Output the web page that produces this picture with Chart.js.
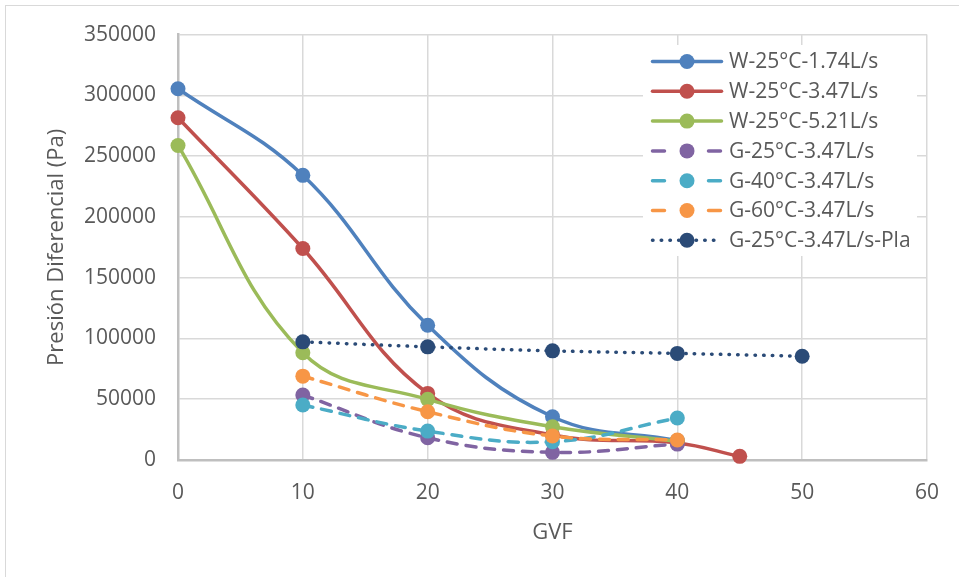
<!DOCTYPE html>
<html>
<head>
<meta charset="utf-8">
<script src="https://cdn.jsdelivr.net/npm/chart.js@4"></script>
<style>
  html, body { margin: 0; padding: 0; background: #fff; }
  #wrap { width: 959px; height: 577px; position: relative; }
</style>
</head>
<body>
<div id="wrap"><canvas id="c" width="959" height="577"></canvas></div>
<script>
// GVF (%) sampled for each series
const gvfW174 = [0, 10, 20, 30, 40];
const gvfW347 = [0, 10, 20, 30, 40, 45];
const gvfW521 = [0, 10, 20, 30, 40];
const gvfGly  = [10, 20, 30, 40];
const gvfPla  = [10, 20, 30, 40, 50];

// Differential pressure (Pa)
const w25_174 = [305400, 234200, 110900, 35600, 16000];
const w25_347 = [281600, 174000, 54800, 20500, 14000, 3000];
const w25_521 = [258800, 88200, 49900, 27400, 15500];
const g25_347 = [53400, 18300, 6300, 13100];
const g40_347 = [45200, 23800, 15000, 34500];
const g60_347 = [69000, 39700, 19700, 16400];
const g25_347pla = [97200, 93100, 89800, 87700, 85400];

const seriesNames = [
  'W-25°C-1.74L/s', 'W-25°C-3.47L/s', 'W-25°C-5.21L/s',
  'G-25°C-3.47L/s', 'G-40°C-3.47L/s', 'G-60°C-3.47L/s', 'G-25°C-3.47L/s-Pla'
];
const yTicks = [0, 50000, 100000, 150000, 200000, 250000, 300000, 350000];
const xTicks = [0, 10, 20, 30, 40, 50, 60];

const textColor = '#595959';
const fontFamily = '"Open Sans", "Liberation Sans", sans-serif';

const pts = (xs, ys) => xs.map((x, i) => ({ x: x, y: ys[i] }));

const styles = [
  { color: '#4F81BD', dash: [],       legendDash: [] },
  { color: '#C0504D', dash: [],       legendDash: [] },
  { color: '#9BBB59', dash: [],       legendDash: [] },
  { color: '#8064A2', dash: [10, 9],  legendDash: [12, 44] },
  { color: '#4BACC6', dash: [10, 9],  legendDash: [12, 44] },
  { color: '#F79646', dash: [10, 9],  legendDash: [12, 44] },
  { color: '#2B4B77', dash: [0.5, 8.2], legendDash: [0.5, 8.2] }
];

const seriesData = [
  pts(gvfW174, w25_174), pts(gvfW347, w25_347), pts(gvfW521, w25_521),
  pts(gvfGly, g25_347), pts(gvfGly, g40_347), pts(gvfGly, g60_347),
  pts(gvfPla, g25_347pla)
];

const datasets = seriesData.map((d, i) => ({
  label: seriesNames[i],
  data: d,
  showLine: true,
  clip: false,
  borderColor: styles[i].color,
  backgroundColor: styles[i].color,
  borderWidth: 3.5,
  borderDash: styles[i].dash,
  borderCapStyle: 'round',
  borderJoinStyle: 'round',
  tension: 0.4,
  pointRadius: 7.5,
  pointHoverRadius: 7.5,
  pointBorderWidth: 0,
  pointBackgroundColor: styles[i].color,
  order: -i
}));

// Outer frame of the chart object
const framePlugin = {
  id: 'frame',
  beforeDraw(chart) {
    const ctx = chart.ctx;
    ctx.save();
    ctx.fillStyle = '#ffffff';
    ctx.fillRect(0, 0, chart.width, chart.height);
    ctx.strokeStyle = '#d9d9d9';
    ctx.lineWidth = 1;
    ctx.strokeRect(5.5, 5.5, 1200, 1200);
    ctx.restore();
  }
};

// Legend with line + marker samples, drawn inside the plot area
const legendPlugin = {
  id: 'lineLegend',
  afterDatasetsDraw(chart) {
    const ctx = chart.ctx;
    const box = { x: 643, y: 45, w: 274, h: 211 };
    ctx.save();
    ctx.fillStyle = '#ffffff';
    ctx.fillRect(box.x, box.y, box.w, box.h);
    const x0 = 652.5, x1 = 721.5, xm = 687, tx = 729;
    const firstY = 61.5, step = 29.8;
    ctx.font = '21px ' + fontFamily;
    ctx.textBaseline = 'middle';
    ctx.textAlign = 'left';
    chart.data.datasets.forEach((ds, i) => {
      const y = firstY + i * step;
      ctx.strokeStyle = ds.borderColor;
      ctx.lineWidth = 3.5;
      ctx.lineCap = 'round';
      ctx.setLineDash(styles[i].legendDash);
      ctx.beginPath();
      ctx.moveTo(x0, y);
      ctx.lineTo(x1, y);
      ctx.stroke();
      ctx.setLineDash([]);
      ctx.fillStyle = ds.borderColor;
      ctx.beginPath();
      ctx.arc(xm, y, 7.5, 0, Math.PI * 2);
      ctx.fill();
      ctx.fillStyle = textColor;
      ctx.fillText(ds.label, tx, y + 1);
    });
    ctx.restore();
  }
};

new Chart(document.getElementById('c'), {
  type: 'scatter',
  data: { datasets: datasets },
  options: {
    responsive: false,
    animation: false,
    events: [],
    layout: { padding: { top: 34, right: 31, left: 0, bottom: 0 } },
    plugins: {
      legend: { display: false },
      tooltip: { enabled: false },
      title: { display: false }
    },
    scales: {
      x: {
        type: 'linear',
        min: 0, max: 60,
        afterBuildTicks(scale) { scale.ticks = xTicks.map(v => ({ value: v })); },
        afterFit(scale) { scale.height = 117; },
        grid: { color: '#d9d9d9', lineWidth: 1.5, drawTicks: false },
        border: { color: '#bfbfbf', width: 2.5 },
        ticks: { color: textColor, padding: 20, font: { size: 21, family: fontFamily } },
        title: {
          display: true, text: 'GVF', color: textColor,
          font: { size: 22, family: fontFamily },
          padding: { top: 0, bottom: 31 }
        }
      },
      y: {
        type: 'linear',
        min: 0, max: 350000,
        afterBuildTicks(scale) { scale.ticks = yTicks.map(v => ({ value: v })); },
        afterFit(scale) { scale.width = 178; },
        grid: { color: '#d9d9d9', lineWidth: 1.5, drawTicks: false },
        border: { color: '#bfbfbf', width: 2.5 },
        ticks: {
          color: textColor, padding: 22,
          font: { size: 21, family: fontFamily },
          callback: v => String(v)
        },
        title: {
          display: true, text: 'Presión Diferencial (Pa)', color: textColor,
          font: { size: 22, family: fontFamily },
          padding: { top: 44, bottom: 0 }
        }
      }
    }
  },
  plugins: [framePlugin, legendPlugin]
});
</script>
</body>
</html>
